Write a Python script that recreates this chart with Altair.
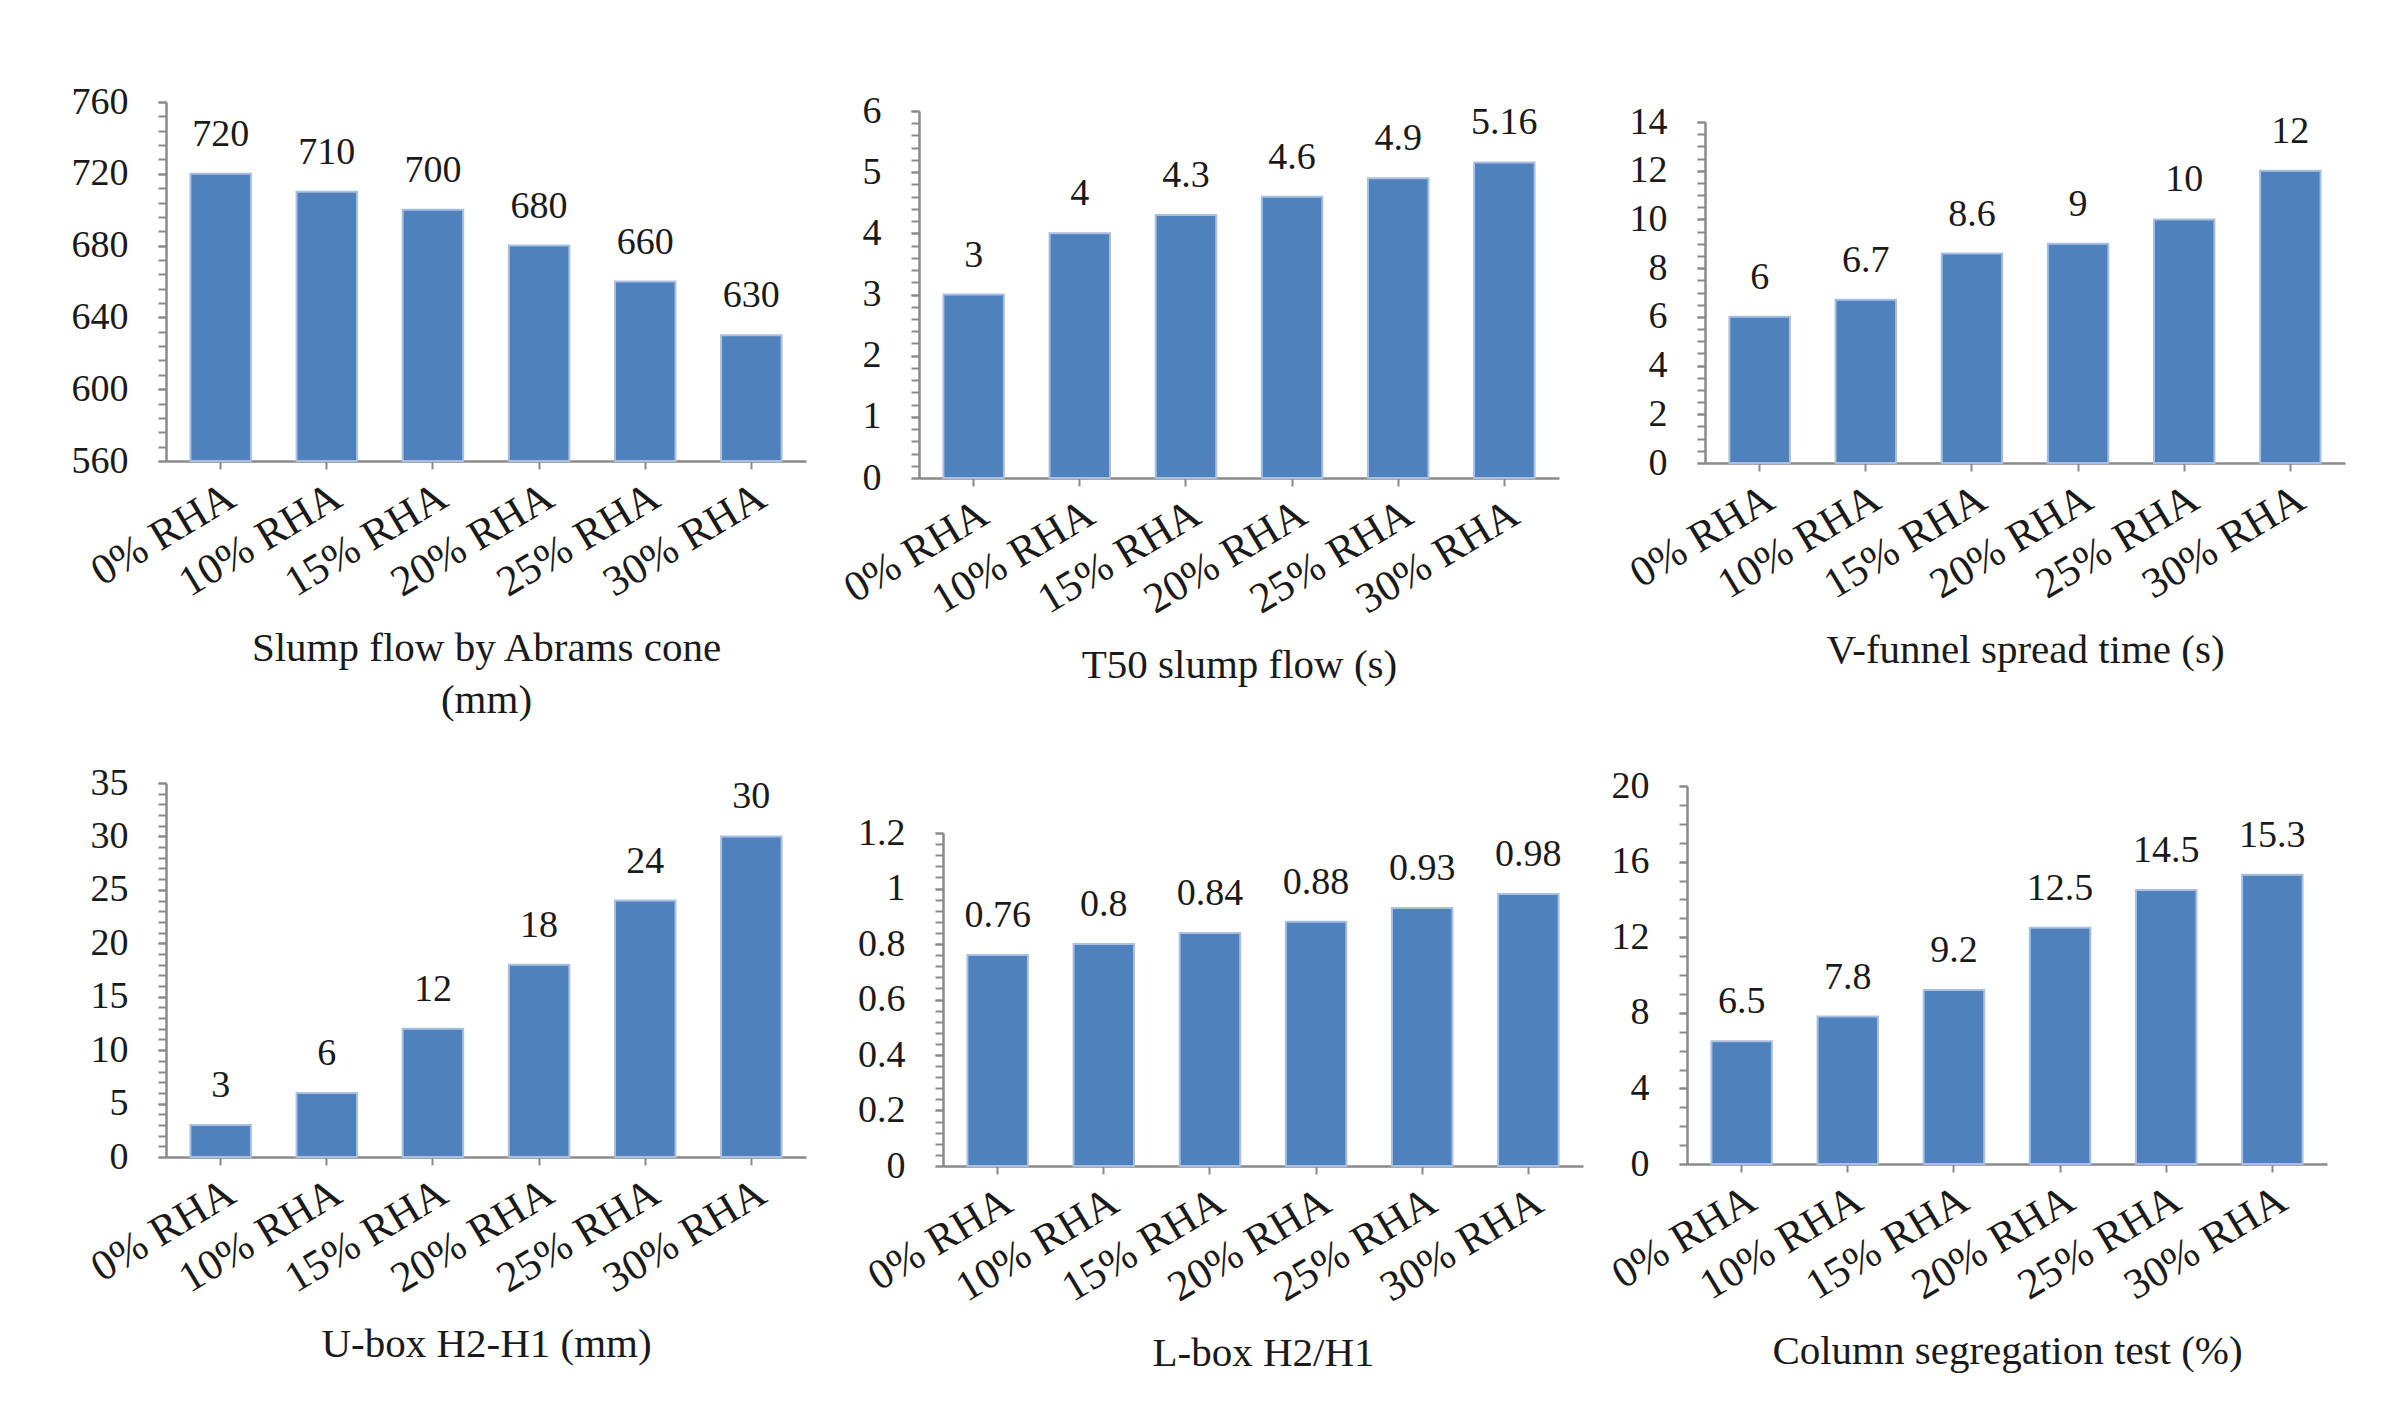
import pandas as pd
import altair as alt

mixes = ["0% RHA", "10% RHA", "15% RHA", "20% RHA", "25% RHA", "30% RHA"]

slump_flow = [720, 710, 700, 680, 660, 630]
t50_flow = [3, 4, 4.3, 4.6, 4.9, 5.16]
v_funnel = [6, 6.7, 8.6, 9, 10, 12]
u_box = [3, 6, 12, 18, 24, 30]
l_box = [0.76, 0.8, 0.84, 0.88, 0.93, 0.98]
col_seg = [6.5, 7.8, 9.2, 12.5, 14.5, 15.3]

FONT = "Liberation Serif"
BLUE = "#4F81BD"
GREY = "#8a8a8a"
INK = "#1a1a1a"


def ticks(lo, hi, step):
    n = int(round((hi - lo) / step))
    return [round(lo + i * step, 4) for i in range(n + 1)]


def panel(vals, title, lo, hi, major, minor, height, extent, top=0, width=640):
    df = pd.DataFrame({"mix": mixes, "v": vals, "lab": [f"{v:g}" for v in vals]})
    base = alt.Chart(df)
    x = alt.X("mix:N", sort=mixes,
              scale=alt.Scale(paddingInner=0.43, paddingOuter=0.23),
              axis=alt.Axis(title=title, labelAngle=-31, tickSize=8, labelPadding=6,
                            labelFontSize=43, labelLimit=0, titlePadding=24,
                            titleLineHeight=52))
    if top:
        yscale = alt.Scale(domain=[lo, hi], nice=False, zero=False, range=[height, top])
    else:
        yscale = alt.Scale(domain=[lo, hi], nice=False, zero=False)

    bars = base.mark_bar(color=BLUE, stroke="#a9c0e0", strokeWidth=2).encode(
        x=x,
        y=alt.Y("v:Q", scale=yscale,
                axis=alt.Axis(values=ticks(lo, hi, major), format="~f", title=None,
                              tickSize=8, labelPadding=30,
                              minExtent=extent, maxExtent=extent)),
        y2=alt.datum(lo),
    )
    minor_ax = base.mark_point(opacity=0).encode(
        x=alt.X("mix:N", sort=mixes),
        y=alt.Y("v:Q", axis=alt.Axis(values=ticks(lo, hi, minor), labels=False, domain=False,
                                     orient="left", tickSize=8, title=None)),
    )
    labels = base.mark_text(font=FONT, fontSize=38, color=INK, baseline="bottom", dy=-20).encode(
        x=alt.X("mix:N", sort=mixes),
        y=alt.Y("v:Q", axis=None),
        text="lab:N",
    )
    return alt.layer(bars, minor_ax, labels).resolve_axis(y="independent").properties(
        width=width, height=height)


p1 = panel(slump_flow, ["Slump  flow  by  Abrams  cone", "(mm)"], 560, 760, 40, 8, 359, 95)
p2 = panel(t50_flow, "T50  slump  flow  (s)", 0, 6, 1, 0.2, 376, 93, top=9)
p3 = panel(v_funnel, "V-funnel  spread time  (s)", 0, 14, 2, 0.5, 361, 126, top=20)
p4 = panel(u_box, "U-box  H2-H1  (mm)", 0, 35, 5, 1, 374, 98)
p5 = panel(l_box, "L-box  H2/H1", 0, 1.2, 0.2, 0.04, 383, 117, top=50)
p6 = panel(col_seg, "Column  segregation test (%)", 0, 20, 4, 1, 381, 84, top=3)

chart = alt.vconcat(
    alt.hconcat(p1, p2, p3, spacing=20),
    alt.hconcat(p4, p5, p6, spacing=20),
    spacing=43,
).properties(
    padding={"left": 60, "top": 75, "right": 5, "bottom": 5},
    background="white",
).configure_view(
    stroke=None
).configure_axis(
    labelFont=FONT, titleFont=FONT, labelFontSize=38, titleFontSize=41,
    titleFontWeight="normal", labelColor=INK, titleColor=INK,
    domainColor=GREY, tickColor=GREY, domainWidth=2.5, tickWidth=2, grid=False,
)

chart.save("out.html", embed_options={"renderer": "svg", "actions": False})
